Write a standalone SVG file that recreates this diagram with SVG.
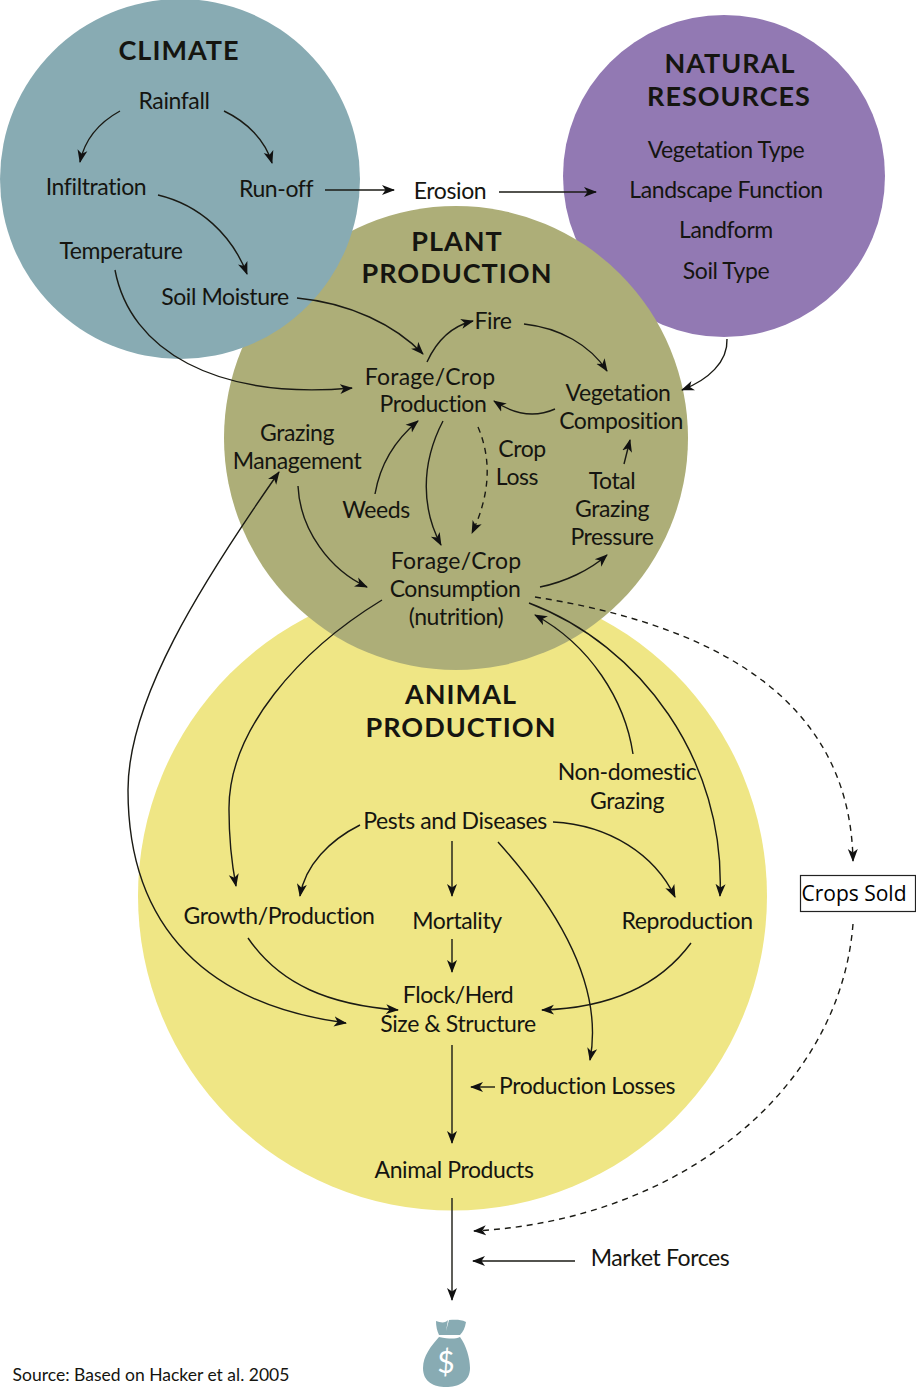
<svg xmlns="http://www.w3.org/2000/svg" width="916" height="1388" viewBox="0 0 916 1388">
<style>
text{font-family:"Lato","Noto Sans",sans-serif;font-size:23px;letter-spacing:-.4px;fill:#151510;text-anchor:middle}
.t{font-weight:700;font-size:27px;letter-spacing:1px}
.w{letter-spacing:.25px}
.c{fill:none;stroke:#1a1a14;stroke-width:1.4;marker-end:url(#a)}
.d{stroke-dasharray:6 5}
</style>
<defs><marker id="a" markerWidth="14" markerHeight="12" refX="12" refY="6" orient="auto-start-reverse" markerUnits="userSpaceOnUse"><path d="M0 1L13 6L0 11L3.500 6Z" fill="#111"/></marker></defs>
<rect width="916" height="1388" fill="#fff"/>
<g id="animal"><circle cx="452.500" cy="896" r="314.500" fill="#efe685"/></g>
<g id="resources"><circle cx="724" cy="176" r="161" fill="#9279b3"/></g>
<g id="plant"><circle cx="456" cy="438" r="232" fill="#adae78"/></g>
<g id="climate"><circle cx="180" cy="179" r="180" fill="#88abb3"/></g>
<g id="connectors">
<path class="c" d="M120 111C100 122 85 138 80 162"/>
<path class="c" d="M224 111C247 122 265 140 272 163"/>
<path class="c" d="M325 190H394"/>
<path class="c" d="M499 192H596"/>
<path class="c" d="M158 195C200 205 232 235 247 274"/>
<path class="c" d="M115 270C130 350 215 400 352 388"/>
<path class="c" d="M297 298C350 303 395 325 423 354"/>
<path class="c" d="M427 362C437 340 452 326 473 321"/>
<path class="c" d="M524 324C560 328 590 345 607 371"/>
<path class="c" d="M727 339C728 362 708 380 682 390"/>
<path class="c" d="M555 409C535 418 515 415 494 401"/>
<path class="c" d="M624 464L630 440"/>
<path class="c" d="M443 421C420 465 422 510 441 545"/>
<path class="c d" d="M478 427C492 460 490 495 472 533"/>
<path class="c" d="M375 494C380 465 395 440 418 421"/>
<path class="c" d="M298 486C300 530 330 570 367 587"/>
<path class="c" d="M540 587C565 582 590 570 607 555"/>
<path class="c d" d="M535 597C680 620 850 680 853 861"/>
<path class="c d" d="M853 924C840 1090 680 1220 474 1231"/>
<path class="c" d="M382 600C300 650 228 730 229 810C229 840 232 865 236 886"/>
<path class="c" d="M529 603C640 645 726 760 720 896"/>
<path class="c" d="M633 754C625 700 590 645 535 615"/>
<path class="c" d="M360 825C330 840 305 865 300 896"/>
<path class="c" d="M553 822C610 825 655 855 675 897"/>
<path class="c" d="M452 841V896"/>
<path class="c" d="M452 939V972"/>
<path class="c" d="M248 938C280 985 330 1005 398 1010"/>
<path class="c" d="M691 943C660 985 610 1008 542 1010"/>
<path class="c" d="M498 842C550 900 605 980 590 1060"/>
<path class="c" d="M452 1045V1143"/>
<path class="c" d="M495 1087H471"/>
<path class="c" d="M452 1198V1300"/>
<path class="c" d="M575 1261H473"/>
<path class="c" marker-start="url(#a)" d="M279 472C200 585 128 700 128 790C128 930 210 1005 346 1023"/>
</g>
<g id="climate-labels">
<text class="t" x="179" y="60">CLIMATE</text>
<text x="174" y="109">Rainfall</text>
<text x="96" y="195">Infiltration</text>
<text x="276" y="197">Run-off</text>
<text x="121" y="259">Temperature</text>
<text x="225" y="305">Soil Moisture</text>
</g>
<g id="erosion"><text x="450" y="199">Erosion</text></g>
<g id="resources-labels">
<text class="t" x="730" y="73">NATURAL</text>
<text class="t" x="729" y="106">RESOURCES</text>
<text x="726" y="158">Vegetation Type</text>
<text x="726" y="198">Landscape Function</text>
<text x="726" y="238">Landform</text>
<text x="726" y="279">Soil Type</text>
</g>
<g id="plant-labels">
<text class="t" x="457" y="251">PLANT</text>
<text class="t" x="457" y="283">PRODUCTION</text>
<text x="493" y="329">Fire</text>
<text class="w" x="430" y="385">Forage/Crop</text>
<text x="433" y="412">Production</text>
<text x="618" y="401">Vegetation</text>
<text x="621" y="429">Composition</text>
<text x="522" y="457">Crop</text>
<text x="517" y="485">Loss</text>
<text x="297" y="441">Grazing</text>
<text x="297" y="469">Management</text>
<text x="376" y="518">Weeds</text>
<text x="612" y="489">Total</text>
<text x="612" y="517">Grazing</text>
<text x="612" y="545">Pressure</text>
<text class="w" x="456" y="569">Forage/Crop</text>
<text x="455" y="597">Consumption</text>
<text x="456" y="625">(nutrition)</text>
</g>
<g id="animal-labels">
<text class="t" x="461" y="704">ANIMAL</text>
<text class="t" x="461" y="737">PRODUCTION</text>
<text x="627" y="780">Non-domestic</text>
<text x="627" y="809">Grazing</text>
<text x="455" y="829">Pests and Diseases</text>
<text x="279" y="924">Growth/Production</text>
<text x="457" y="929">Mortality</text>
<text x="687" y="929">Reproduction</text>
<text x="458" y="1003">Flock/Herd</text>
<text x="458" y="1032">Size &amp; Structure</text>
<text x="587" y="1094">Production Losses</text>
<text x="454" y="1178">Animal Products</text>
</g>
<g id="crops"><rect x="800.500" y="875.500" width="115" height="36" fill="#fff" stroke="#222" stroke-width="1.2"/><text x="854" y="901" style="font-family:'Open Sans','Noto Sans',sans-serif;font-size:21px;letter-spacing:0;fill:#000">Crops Sold</text></g>
<g id="market"><text x="660" y="1266">Market Forces</text></g>
<g id="money"><path d="M436 1321C441 1323 446 1323 448 1320L446 1331L449 1320C454 1320 460 1319 466 1322C465 1328 463 1332 460 1335L439 1335C437 1331 436 1326 436 1321Z" fill="#88abb3"/><path d="M439 1337C450 1339 455 1339 460 1337C466 1345 470 1358 470 1368C470 1382 458 1387 446 1387C434 1387 423 1382 423 1368C423 1356 431 1346 439 1337Z" fill="#88abb3"/><text x="446" y="1373" style="fill:#fff;font-size:30px;letter-spacing:0">$</text></g>
<text x="151" y="1381" style="font-size:17.500px;letter-spacing:0">Source: Based on Hacker et al. 2005</text>
</svg>
